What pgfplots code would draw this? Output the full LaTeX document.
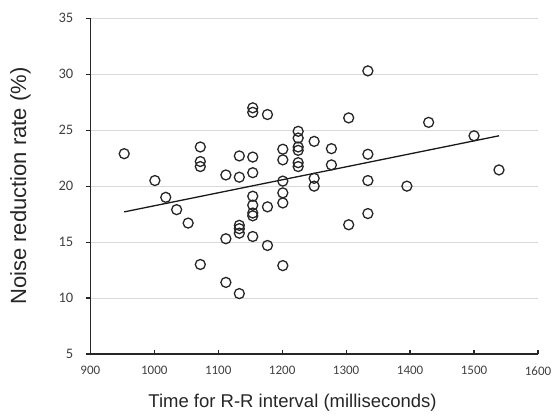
\documentclass[border=0pt]{standalone}
\usepackage{fontspec}
\setmainfont{Liberation Sans}
\newfontfamily\calib{Carlito}
\usepackage{pgfplots}
\pgfplotsset{compat=1.18}

% R-R interval (ms) vs noise reduction rate (%)
\pgfplotstableread{
x y
953 22.9
1001 20.5
1018 19.0
1035 17.9
1053 16.7
1072 23.5
1072 22.2
1072 21.75
1072 13.0
1112 21.0
1112 15.3
1112 11.4
1133 22.7
1133 20.8
1133 16.5
1133 16.2
1133 15.8
1133 10.4
1154 27.0
1154 26.6
1154 22.6
1154 21.2
1154 19.1
1154 18.3
1154 17.6
1154 17.35
1154 15.5
1177 26.4
1177 18.15
1177 14.7
1201 23.3
1201 22.35
1201 20.45
1201 19.4
1201 18.5
1201 12.9
1225 24.9
1225 24.3
1225 23.5
1225 23.2
1225 22.1
1225 21.75
1250 24.0
1250 20.7
1250 20.0
1277 23.35
1277 21.9
1304 26.1
1304 16.55
1334 30.3
1334 22.85
1334 20.5
1334 17.55
1395 20.0
1429 25.7
1500 24.5
1539 21.45
}\rrdata

\begin{document}
\begin{tikzpicture}
\begin{axis}[
  name=ax,
  scale only axis,
  width=447.7pt, height=335.7pt,
  xmin=900, xmax=1600, ymin=5, ymax=35,
  xtick={900,1000,...,1600},
  ytick={5,10,...,35},
  axis x line=bottom, axis y line=left,
  axis line style={-, black!85, line width=1.3pt},
  xtick align=inside, ytick align=outside,
  major tick length=4.5pt,
  tick style={black!85, line width=1.2pt},
  ymajorgrids,
  grid style={black!15, line width=0.9pt},
  /pgf/number format/assume math mode=true,
  /pgf/number format/1000 sep={},
  xticklabel style={font=\calib\fontsize{13}{13}\selectfont, text=black!75, yshift=-9pt},
  yticklabel style={font=\calib\fontsize{14.5}{14.5}\selectfont, text=black!75, xshift=-9pt},
  xlabel={Time for R-R interval (milliseconds)},
  ylabel={Noise reduction rate (\%)},
  xlabel style={font=\fontsize{18.5}{18.5}\selectfont, text=black!85,
    at={(axis description cs:0.4517,-0.146)}, anchor=center},
  ylabel style={font=\fontsize{22}{22}\selectfont, text=black!85,
    at={(axis description cs:-0.156,0.5)}, anchor=center},
  clip=false,
]
\addplot[only marks, mark=o, mark size=5pt,
  mark options={draw=black!85, line width=1.3pt}] table[x=x, y=y] {\rrdata};
\addplot[black!90, line width=1.3pt] coordinates {(953,17.7) (1539,24.5)};
\end{axis}
\pgfresetboundingbox
\path ([xshift=-90.3pt,yshift=-65pt]ax.south west) rectangle ([xshift=15pt,yshift=18.3pt]ax.north east);
\end{tikzpicture}
\end{document}
